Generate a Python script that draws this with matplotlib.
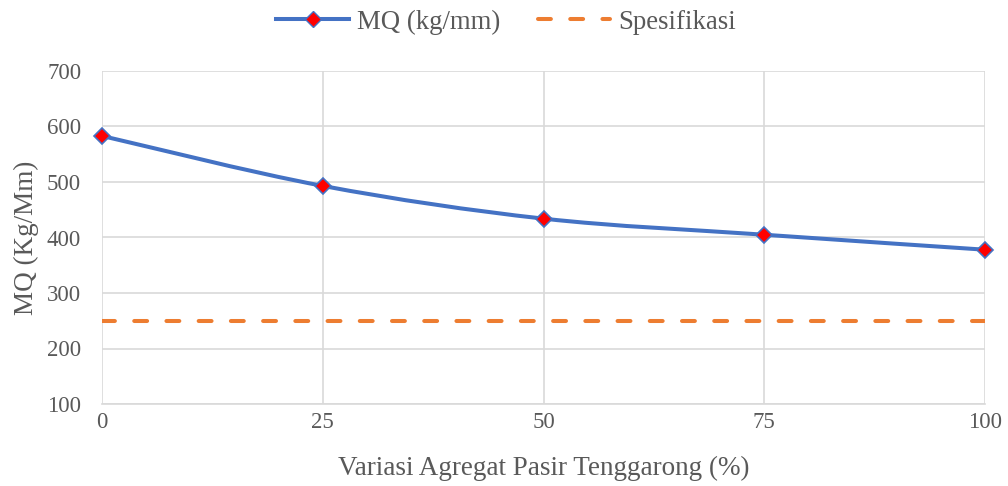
import matplotlib.pyplot as plt
from matplotlib.path import Path
from matplotlib.patches import PathPatch
from matplotlib.lines import Line2D

# data
variasi = [0, 25, 50, 75, 100]
mq = [583, 493, 434, 405, 378]
spesifikasi = [250, 250, 250, 250, 250]

plt.rcParams['font.family'] = ['Liberation Serif', 'DejaVu Serif']

blue = '#4472C4'
orange = '#ED7D31'
grey = '#595959'
dash = (0, (3.2, 4.8))

fig = plt.figure(figsize=(10.08, 4.86), dpi=100)
ax = fig.add_axes([102 / 1008, 82 / 486, 883 / 1008, 333 / 486])

# smoothed line like the spreadsheet (catmull-rom bezier through the points)
n = len(variasi)
verts = [(variasi[0], mq[0])]
codes = [Path.MOVETO]
for i in range(n - 1):
    p0 = (variasi[max(i - 1, 0)], mq[max(i - 1, 0)])
    p1 = (variasi[i], mq[i])
    p2 = (variasi[i + 1], mq[i + 1])
    p3 = (variasi[min(i + 2, n - 1)], mq[min(i + 2, n - 1)])
    c1 = (p1[0] + (p2[0] - p0[0]) / 6, p1[1] + (p2[1] - p0[1]) / 6)
    c2 = (p2[0] - (p3[0] - p1[0]) / 6, p2[1] - (p3[1] - p1[1]) / 6)
    verts += [c1, c2, p2]
    codes += [Path.CURVE4] * 3
ax.add_patch(PathPatch(Path(verts, codes), facecolor='none', edgecolor=blue,
                       lw=2.9, zorder=3, capstyle='round', clip_on=False))
ax.plot(variasi, mq, ls='none', marker='D', ms=8, mfc='red', mec=blue,
        mew=1.2, zorder=4, clip_on=False)

ax.plot(variasi, spesifikasi, color=orange, lw=2.9, ls=dash,
        dash_capstyle='round', zorder=2)

ax.set_xlim(0, 100)
ax.set_ylim(100, 700)
ax.set_xticks(variasi)
ax.set_yticks(range(100, 701, 100))
ax.grid(True, color='#D9D9D9', lw=1.2)
ax.set_axisbelow(True)
for s in ['top', 'right', 'left']:
    ax.spines[s].set_visible(False)
ax.spines['bottom'].set_color('#D9D9D9')
ax.spines['bottom'].set_linewidth(1.2)
ax.tick_params(length=0, labelsize=16.5, labelcolor=grey, pad=6)
ax.tick_params(axis='y', pad=15)

ax.set_xlabel('Variasi Agregat Pasir Tenggarong (%)', fontsize=19.5, color=grey, labelpad=16)
ax.set_ylabel('MQ (Kg/Mm)', fontsize=19.5, color=grey, labelpad=6)

handles = [
    Line2D([], [], color=blue, lw=2.9, marker='D', ms=8, mfc='red', mec=blue),
    Line2D([], [], color=orange, lw=2.9, ls=dash, dash_capstyle='round'),
]
fig.legend(handles, ['MQ (kg/mm)', 'Spesifikasi'], loc='upper center',
           bbox_to_anchor=(0.502, 1.03), ncol=2, frameon=False, fontsize=19.3,
           labelcolor=grey, handlelength=2.7, columnspacing=1.4, handletextpad=0.3)

fig.savefig('out.png', dpi=100)
